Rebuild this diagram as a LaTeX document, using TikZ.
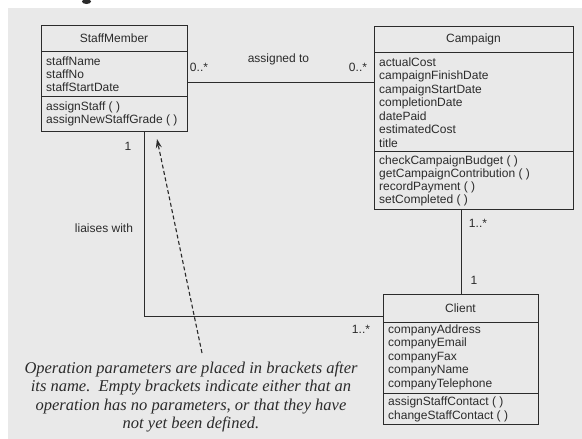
\documentclass[tikz,border=0pt]{standalone}
\usepackage{fontspec}
\setmainfont{Liberation Serif}
\setsansfont{Liberation Sans}
\usetikzlibrary{arrows.meta}
\definecolor{paper}{HTML}{E9E9E9}
\definecolor{ink}{HTML}{2B2B2B}
\begin{document}
\begin{tikzpicture}[x=1pt,y=-1pt,
 cls/.style={draw=ink, line width=0.9pt, anchor=north west, inner sep=0pt},
 sep/.style={draw=ink, line width=0.8pt},
 txt/.style={font=\sffamily\fontsize{12}{13.5}\selectfont, text=ink, inner sep=0pt},
 attr/.style={txt, anchor=north west, align=left},
 assoc/.style={draw=ink, line width=0.9pt},
 note/.style={font=\rmfamily\itshape\fontsize{16.5}{18.6}\selectfont, text=ink, align=center, inner sep=0pt},
 noteline/.style={draw=ink, line width=1.1pt, dash pattern=on 4pt off 2.5pt, -{Stealth[length=9pt,width=6pt,inset=3pt]}}]
\useasboundingbox (0,0) rectangle (582,439);
\fill[white] (0,0) rectangle (582,439);
\fill[paper] (8,8) rectangle (582,439);
\fill[ink] (86.5,1.5) ellipse (4.5pt and 2.5pt);

% StaffMember
\node[cls, minimum width=146pt, minimum height=106pt] (staff) at (41,25) {};
\draw[sep] (staff.west |- 0,51) -- (staff.east |- 0,51);
\draw[sep] (staff.west |- 0,96) -- (staff.east |- 0,96);
\node[txt] (staffname) at (114,38) {StaffMember};
\node[attr, font=\sffamily\fontsize{12}{13}\selectfont] (staffattr) at (46,56.5) {staffName\\staffNo\\staffStartDate};
\node[attr, font=\sffamily\fontsize{12}{13}\selectfont] (staffops) at (46,101.5) {assignStaff ( )\\assignNewStaffGrade ( )};

% Campaign
\node[cls, minimum width=199pt, minimum height=183pt] (camp) at (374,26) {};
\draw[sep] (camp.west |- 0,52) -- (camp.east |- 0,52);
\draw[sep] (camp.west |- 0,151) -- (camp.east |- 0,151);
\node[txt] (campname) at (473.5,39) {Campaign};
\node[attr] (campattr) at (379,57.5) {actualCost\\campaignFinishDate\\campaignStartDate\\completionDate\\datePaid\\estimatedCost\\title};
\node[attr, font=\sffamily\fontsize{12}{13}\selectfont] (campops) at (379,155.5) {checkCampaignBudget ( )\\getCampaignContribution ( )\\recordPayment ( )\\setCompleted ( )};

% Client
\node[cls, minimum width=155pt, minimum height=130pt] (client) at (383,294) {};
\draw[sep] (client.west |- 0,322) -- (client.east |- 0,322);
\draw[sep] (client.west |- 0,393) -- (client.east |- 0,393);
\node[txt] (clientname) at (460.5,308) {Client};
\node[attr] (clientattr) at (388,324.5) {companyAddress\\companyEmail\\companyFax\\companyName\\companyTelephone};
\node[attr, font=\sffamily\fontsize{12}{14}\selectfont] (clientops) at (388,396.5) {assignStaffContact ( )\\changeStaffContact ( )};

% associations
\draw[assoc] (staff.east |- 0,82) -- (camp.west |- 0,82);
\node[txt] (assignedto) at (278.5,59) {assigned to};
\node[txt] (m1) at (199,67) {0..*};
\node[txt] (m2) at (358,67) {0..*};

\draw[assoc] (client.north |- camp.south) -- (client.north);
\node[txt] (m3) at (478,223) {1..*};
\node[txt] (m4) at (474,280) {1};

\coordinate (liaisecorner) at (144,316);
\draw[assoc] (staff.south -| liaisecorner) -- (liaisecorner) -- (client.west |- liaisecorner);
\node[txt] (m5) at (128,146) {1};
\node[txt] (liaises) at (104,228) {liaises with};
\node[txt] (m6) at (361,329) {1..*};

% note
\node[note] (note) at (191,397) {Operation parameters are placed in brackets after\\its name.\ \ Empty brackets indicate either that an\\operation has no parameters, or that they have\\not yet been defined.};
\coordinate (notetail) at (202,353);
\coordinate (notetip) at (157,139);
\draw[noteline] (notetail) -- (notetip);
\end{tikzpicture}
\end{document}
